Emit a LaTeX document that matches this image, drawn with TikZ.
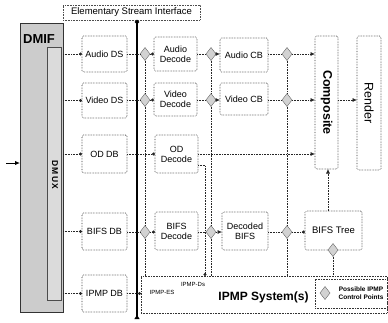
\documentclass[tikz,border=0pt]{standalone}
\usepackage{fontspec}
\setmainfont{Liberation Sans}
\usetikzlibrary{shapes.geometric,arrows.meta,calc}
\begin{document}
\begin{tikzpicture}[x=1pt,y=-1pt,
  box/.style={draw=black!80, densely dotted, line width=0.6pt, rounded corners=1.5pt,
    align=center, inner sep=1pt, outer sep=0pt, font=\fontsize{9}{10}\selectfont},
  vbox/.style={box, font=\fontsize{13}{14}\selectfont},
  conn/.style={densely dotted, line width=0.6pt, draw=black!85},
  dotend/.style={-{Circle[length=3pt]}},
  arr/.style={-{Latex[length=4.5pt,width=4pt]}},
  ctl/.style={diamond, draw=black!60, fill=gray!35, minimum width=10pt, minimum height=13pt,
    inner sep=0pt, outer sep=0pt, line width=0.4pt},
  small/.style={font=\fontsize{6}{7}\selectfont, inner sep=0pt}
]
\useasboundingbox (0,0) rectangle (388,322);

% DMIF
\node[draw=black!80, fill=gray!40, line width=0.5pt, minimum width=43pt, minimum height=289pt,
  inner sep=0pt, outer sep=0pt] (dmif) at (41.5,167.5) {};
\node[draw=black!70, fill=gray!28, line width=0.6pt, minimum width=14pt, minimum height=253pt,
  inner sep=0pt, outer sep=0pt] (dmux) at (54,173.5) {};
\node[font=\fontsize{13}{14}\selectfont\bfseries, inner sep=0pt] (dmiflbl) at (39,39.5) {DMIF};
\node[font=\fontsize{8.5}{9}\selectfont\bfseries, rotate=-90, inner sep=0pt] (dmuxlbl) at (55,175) {D\,M\,U\,X};
\coordinate (inp) at (6,163);
\draw[line width=1pt, -{Latex[length=5pt,width=4.5pt]}] (inp) -- (inp -| dmif.west);

% Elementary stream interface
\node[draw=black!70, densely dotted, line width=0.6pt, minimum width=137pt, minimum height=15pt,
  inner sep=0pt, outer sep=0pt, font=\fontsize{9.5}{10}\selectfont] (esi) at (131.5,12.5) {Elementary Stream Interface};
\coordinate (esibot) at (137,319);
\draw[line width=1.8pt, {Circle[length=4pt]}-{Triangle[reversed,length=4pt,width=5pt]}] ([xshift=5.5pt]esi.south) -- (esibot);

% DS/DB boxes
\node[box, minimum width=45pt, minimum height=36pt] (ads) at (104.5,54) {Audio DS};
\node[box, minimum width=45pt, minimum height=35pt] (vds) at (104.5,100.5) {Video DS};
\node[box, minimum width=45pt, minimum height=38pt] (odb) at (104.5,154) {OD DB};
\node[box, minimum width=45pt, minimum height=37pt] (bdb) at (104.5,231.5) {BIFS DB};
\node[box, minimum width=45pt, minimum height=37pt] (idb) at (104.5,293.5) {IPMP DB};

% decoders
\node[box, minimum width=43pt, minimum height=34pt] (adec) at (175.5,54) {Audio\\Decode};
\node[box, minimum width=43pt, minimum height=33pt] (vdec) at (175.5,99.5) {Video\\Decode};
\node[box, minimum width=43pt, minimum height=38pt] (odec) at (176.5,154) {OD\\Decode};
\node[box, minimum width=43pt, minimum height=38pt] (bdec) at (176.5,231) {BIFS\\Decode};

% composition buffers
\node[box, minimum width=48pt, minimum height=34pt] (acb) at (244,55) {Audio CB};
\node[box, minimum width=48pt, minimum height=32pt] (vcb) at (244,99) {Video CB};
\node[box, minimum width=46pt, minimum height=38pt] (dbifs) at (245,231) {Decoded\\BIFS};

% composite / render / bifs tree
\node[vbox, minimum width=23pt, minimum height=133pt] (comp) at (326.5,102.5) {};
\node[font=\fontsize{12.5}{13}\selectfont\bfseries, rotate=-90, inner sep=0pt] (complbl) at (comp.center) {Composite};
\node[vbox, minimum width=24pt, minimum height=134pt] (rend) at (369,103) {};
\node[font=\fontsize{12.5}{13}\selectfont, rotate=-90, inner sep=0pt] (rendlbl) at (rend.center) {Render};
\node[box, minimum width=57pt, minimum height=39pt, font=\fontsize{9.5}{10}\selectfont] (btree) at (333.5,230.5) {BIFS Tree};

% IPMP system
\node[box, rounded corners=0pt, minimum width=246pt, minimum height=37pt] (ipmp) at (264,294.5) {};
\node[font=\fontsize{12}{13}\selectfont\bfseries, inner sep=0pt] (ipmplbl) at (263.5,297) {IPMP System(s)};
\node[small] (ipmpes) at (162,292) {IPMP-ES};
\node[small] (ipmpds) at (193,284) {IPMP-Ds};
\node[box, rounded corners=0pt, minimum width=72pt, minimum height=29pt] (legend) at (351,293.5) {};
\node[font=\fontsize{6.5}{8}\selectfont\bfseries, align=center, inner sep=0pt] (legtxt) at (361,293.5) {Possible IPMP\\Control Points};

% control points
\node[ctl] (a1) at (145,54) {};
\node[ctl] (v1) at (145,100) {};
\node[ctl] (b1) at (145,232) {};
\node[ctl] (a2) at (211,54) {};
\node[ctl] (v2) at (211,100) {};
\node[ctl] (b2) at (211,232) {};
\node[ctl] (a3) at (287,54) {};
\node[ctl] (v3) at (287,100) {};
\node[ctl] (b3) at (287,232) {};
\node[ctl] (b4) at (333,250) {};
\node[ctl] (ld) at (325,293) {};

% vertical control lines
\draw[conn] (a1) -- (v1);
\draw[conn] (v1) -- (b1);
\draw[conn] (b1) -- (b1 |- ipmp.north);
\draw[conn] (a2) -- (v2);
\draw[conn] (v2) -- (b2);
\draw[conn] (b2) -- (b2 |- ipmp.north);
\draw[conn] (a3) -- (v3);
\draw[conn] (v3) -- (b3);
\draw[conn] (b3) -- (b3 |- ipmp.north);
\draw[conn] (b4) -- (b4 |- ipmp.north);

% audio row
\draw[conn, dotend] (dmif.east |- ads.west) -- (ads.west);
\draw[conn] (ads) -- (a1);
\draw[conn, dotend] (a1) -- (adec);
\draw[conn] (adec) -- (a2);
\draw[conn, arr] (a2) -- (a2 -| acb.west);
\draw[conn] (a3 -| acb.east) -- (a3);
\draw[conn, arr] (a3) -- (a3 -| comp.west);

% video row
\draw[conn, dotend] (dmif.east |- vds.west) -- (vds.west);
\draw[conn] (v1 -| vds.east) -- (v1);
\draw[conn, dotend] (v1) -- (v1 -| vdec.west);
\draw[conn] (v2 -| vdec.east) -- (v2);
\draw[conn, arr] (v2) -- (v2 -| vcb.west);
\draw[conn] (v3 -| vcb.east) -- (v3);
\draw[conn, arr] (v3) -- (v3 -| comp.west);
\draw[conn, arr] (comp.east |- v3) -- (rend.west |- v3);

% OD row
\draw[conn, dotend] (dmif.east |- odb.west) -- (odb.west);
\draw[conn, dotend] (odb) -- (odec);
\draw[conn, arr] (odec.east) -- (odec.east -| comp.west);
\draw[conn, dotend] ([yshift=8pt]odec.south east) -| ([xshift=7pt]odec.south east |- ipmp.north);

% BIFS row
\draw[conn, dotend] (dmif.east |- bdb.west) -- (bdb.west);
\draw[conn] (b1 -| bdb.east) -- (b1);
\draw[conn, dotend] (b1) -- (b1 -| bdec.west);
\draw[conn] (b2 -| bdec.east) -- (b2);
\draw[conn, arr] (b2) -- (b2 -| dbifs.west);
\draw[conn] (b3 -| dbifs.east) -- (b3);
\draw[conn, dotend] (b3) -- (b3 -| btree.west);
\draw[conn, arr] ([xshift=-5.5pt]btree.north) -- ([xshift=-5.5pt]btree.north |- comp.south);

% IPMP row
\draw[conn, dotend] (dmif.east |- idb.west) -- (idb.west);
\draw[conn, dotend] (idb) -- (ipmp.west |- idb);
\end{tikzpicture}
\end{document}
